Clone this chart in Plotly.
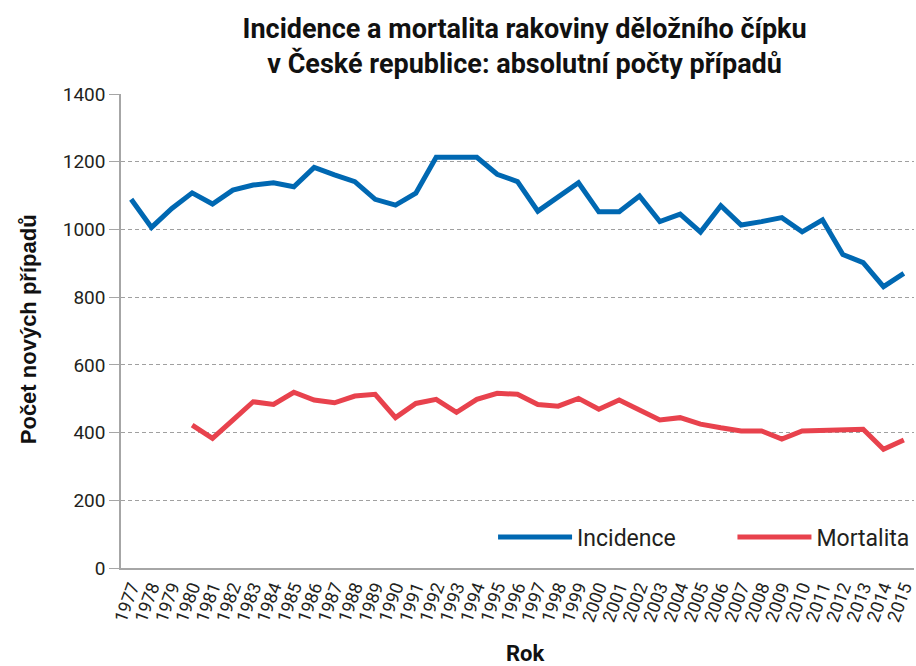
import plotly.graph_objects as go

years = [str(y) for y in range(1977, 2016)]
incidence = [1089, 1006, 1062, 1108, 1075, 1116, 1131, 1138, 1126, 1183,
             1161, 1141, 1089, 1072, 1107, 1213, 1213, 1213, 1163, 1141,
             1054, 1097, 1138, 1052, 1052, 1099, 1023, 1045, 992, 1070,
             1013, 1023, 1035, 993, 1028, 926, 902, 831, 870]
mortality = [None, None, None, 422, 383, 437, 491, 483, 519, 496,
             488, 508, 513, 444, 486, 498, 460, 498, 516, 513,
             483, 478, 501, 469, 496, 467, 437, 444, 425, 414,
             405, 405, 381, 405, 407, 409, 410, 351, 378]
y_ticks = [0, 200, 400, 600, 800, 1000, 1200, 1400]

title_text = "Incidence a mortalita rakoviny děložního čípku<br>v České republice: absolutní počty případů"
x_title = "Rok"
y_title = "Počet nových případů"

BLUE = "#0068b2"
RED = "#e8424d"
TXT = "#231f20"
GREY = "#a6a6a6"

fig = go.Figure()
fig.add_trace(go.Scatter(x=years, y=incidence, mode="lines", name="Incidence",
                         line=dict(color=BLUE, width=5), legend="legend"))
fig.add_trace(go.Scatter(x=years, y=mortality, mode="lines", name="Mortalita",
                         line=dict(color=RED, width=5), legend="legend2"))

leg_common = dict(orientation="h", xanchor="left", yanchor="middle",
                  y=(568 - 537) / 474, font=dict(size=23, color=TXT),
                  itemwidth=74, bgcolor="rgba(0,0,0,0)")

fig.update_layout(
    width=916, height=666,
    margin=dict(l=121, r=0, t=94, b=98),
    paper_bgcolor="white", plot_bgcolor="white",
    font=dict(family="Roboto, Liberation Sans, Arial", color=TXT),
    title=dict(text=title_text, x=0.509, xref="paper", xanchor="center",
               y=0.943, yref="container", yanchor="top",
               font=dict(family="Liberation Sans Narrow, Arial Narrow, Roboto", size=27,
                         color="#111111", weight="bold")),
    showlegend=True,
    legend=dict(x=(494 - 121) / 795, **leg_common),
    legend2=dict(x=(734 - 121) / 795, **leg_common),
    xaxis=dict(type="category", range=[-0.5, 38.5], showgrid=False,
               tickmode="array", tickvals=years, ticktext=years,
               showline=True, linecolor=GREY, linewidth=1.5, ticks="",
               tickangle=-70, tickfont=dict(size=18, color=TXT), zeroline=False),
    yaxis=dict(range=[0, 1400], tickvals=y_ticks, showgrid=True,
               gridcolor="#a0a0a0", griddash="4px,3px", gridwidth=1,
               showline=True, linecolor=GREY, linewidth=1.5,
               ticks="outside", ticklen=10, tickcolor=GREY, tickwidth=1,
               tickfont=dict(size=19, color=TXT), zeroline=False),
    annotations=[
        dict(text=x_title, xref="paper", yref="paper", x=(527 - 121) / 795,
             y=(568 - 653) / 474, xanchor="center", yanchor="middle",
             showarrow=False, font=dict(family="Liberation Sans Narrow, Arial Narrow, Roboto",
                                         size=22, color="#111111", weight="bold")),
        dict(text=y_title, xref="paper", yref="paper", x=(28 - 121) / 795,
             y=(568 - 329) / 474, xanchor="center", yanchor="middle", textangle=-90,
             showarrow=False, font=dict(family="Liberation Sans, Arial", size=22,
                                         color="#111111", weight="bold")),
    ],
)

fig.write_html("out.html")
